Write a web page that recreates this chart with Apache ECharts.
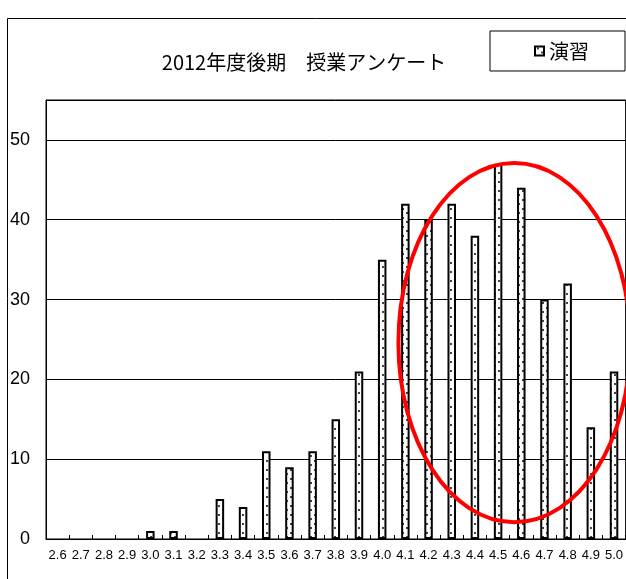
<!DOCTYPE html>
<html>
<head>
<meta charset="utf-8">
<script src="https://cdn.jsdelivr.net/npm/echarts@6/dist/echarts.min.js"></script>
<style>
html,body{margin:0;padding:0;background:#fff;}
#chart{width:626px;height:579px;}
</style>
</head>
<body>
<div id="chart"></div>
<script>
// ---- data ----
var categories = ['2.6','2.7','2.8','2.9','3.0','3.1','3.2','3.3','3.4','3.5','3.6','3.7','3.8','3.9','4.0','4.1','4.2','4.3','4.4','4.5','4.6','4.7','4.8','4.9','5.0'];
var values = [0,0,0,0,1,1,0,5,4,11,9,11,15,21,35,42,40,42,38,47,44,30,32,14,21];
var seriesName = '演習';
var titleText = '2012年度後期　授業アンケート';
var yTicks = [0,10,20,30,40,50];

// dotted pattern
var tile = document.createElement('canvas');
tile.width = 8; tile.height = 9;
var tc = tile.getContext('2d');
tc.fillStyle = '#ffffff';
tc.fillRect(0,0,8,9);
tc.fillStyle = '#444444';
tc.fillRect(2,1,2,2);
tc.fillRect(6,5,2,2);

var chart = echarts.init(document.getElementById('chart'), null, {renderer:'canvas'});
var option = {
  animation: false,
  backgroundColor: '#ffffff',
  title: {
    text: titleText,
    left: 304, top: 52, textAlign: 'center', padding: 0,
    textStyle: {fontFamily: '"Noto Sans CJK JP", sans-serif', fontSize: 20, fontWeight: 'normal', color: '#000'}
  },
  legend: {
    data: [seriesName],
    right: 1, top: 31,
    padding: [10, 36, 10, 44],
    borderColor: '#000', borderWidth: 1,
    itemWidth: 9, itemHeight: 9, itemGap: 4,
    icon: 'rect',
    textStyle: {fontFamily: '"Noto Sans CJK JP", sans-serif', fontSize: 20, color: '#000'}
  },
  grid: {left: 46, top: 100, right: -3, bottom: 40, show: true, borderColor: '#000', borderWidth: 1, backgroundColor: 'transparent'},
  xAxis: {
    type: 'category',
    data: categories,
    axisLine: {lineStyle: {color: '#000', width: 1}},
    axisTick: {show: true, inside: true, length: 4, interval: 0, lineStyle: {color: '#000'}},
    axisLabel: {interval: 0, margin: 10, fontSize: 13, fontFamily: '"Liberation Sans Narrow", "Liberation Sans", sans-serif', color: '#000'}
  },
  yAxis: {
    type: 'value',
    min: 0, max: 55, interval: 10,
    axisLine: {show: true, lineStyle: {color: '#000', width: 1}},
    axisTick: {show: false},
    splitLine: {show: true, lineStyle: {color: '#000', width: 1}},
    axisLabel: {
      margin: 16, fontSize: 18, fontFamily: '"Liberation Sans", Arial, sans-serif', color: '#000',
      formatter: function(v){ return yTicks.indexOf(v) >= 0 ? String(v) : ''; }
    }
  },
  series: [{
    name: seriesName,
    type: 'bar',
    data: values.map(function(v){ return v === 0 ? '-' : v; }),
    barWidth: 8.5,
    itemStyle: {color: {image: tile, repeat: 'repeat'}, borderColor: '#000', borderWidth: 2}
  }]
};
chart.setOption(option);

// annotation ellipse positioned from the axes
var x45 = chart.convertToPixel({xAxisIndex:0}, '4.5');
var x46 = chart.convertToPixel({xAxisIndex:0}, '4.6');
var catW = x46 - x45;
var cx = x45 + 0.7 * catW;
var cy = chart.convertToPixel({yAxisIndex:0}, 24.6);
var ry = chart.convertToPixel({yAxisIndex:0}, 0) - chart.convertToPixel({yAxisIndex:0}, 22.5);
var rx = 5 * catW;
chart.setOption({
  graphic: [
    {type: 'polyline', shape: {points: [[7.5,579],[7.5,18.5],[626,18.5]]}, style: {stroke: '#000', lineWidth: 1, fill: null}, z: 100},
    {type: 'ellipse', shape: {cx: cx, cy: cy, rx: rx, ry: ry}, style: {stroke: '#ff0000', lineWidth: 4, fill: null}, z: 100}
  ]
});
</script>
</body>
</html>
